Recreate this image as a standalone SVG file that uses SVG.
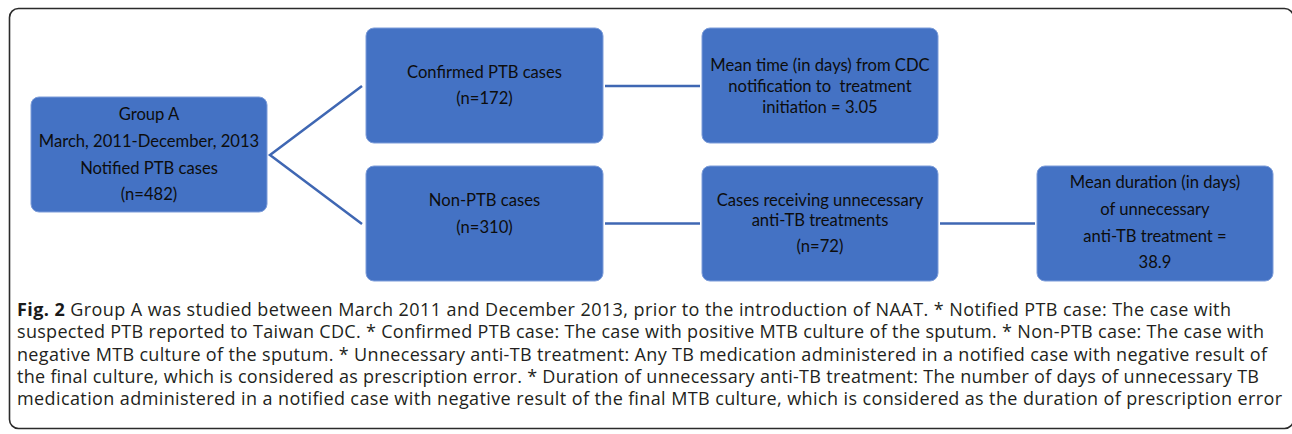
<svg xmlns="http://www.w3.org/2000/svg" width="1292" height="434" viewBox="0 0 1292 434">
<style>
.box{fill:#4472C4;stroke:#7C9CD9;stroke-width:1}
.lbl{font-family:Lato,"Liberation Sans",sans-serif;font-size:16.6px;fill:#0d0d0d;text-anchor:middle}
.cap{font-family:"Open Sans","Noto Sans",sans-serif;font-size:18px;fill:#231f20}
.conn{stroke:#3F67B3;stroke-width:2.5;fill:none}
</style>
<rect x="9.5" y="8.5" width="1284" height="420" rx="9" fill="#fff" stroke="#2b2b2b" stroke-width="1.6"/>
<g id="connectors">
<polyline class="conn" points="362,86 270,155 362,224"/>
<line class="conn" x1="605" y1="86" x2="700" y2="86"/>
<line class="conn" x1="605" y1="223.5" x2="700" y2="223.5"/>
<line class="conn" x1="940" y1="223.5" x2="1035" y2="223.5"/>
</g>
<g id="groupA">
<rect class="box" x="31" y="97" width="236" height="115" rx="8"/>
<text class="lbl" x="149" y="120">Group A</text>
<text class="lbl" x="149" y="147">March, 2011-December, 2013</text>
<text class="lbl" x="149" y="174">Notified PTB cases</text>
<text class="lbl" x="149" y="200">(n=482)</text>
</g>
<g id="confirmed">
<rect class="box" x="366" y="28" width="237" height="115" rx="8"/>
<text class="lbl" x="484.5" y="78">Confirmed PTB cases</text>
<text class="lbl" x="484.5" y="104">(n=172)</text>
</g>
<g id="meantime">
<rect class="box" x="702" y="28" width="236" height="115" rx="8"/>
<text class="lbl" x="820" y="71">Mean time (in days) from CDC</text>
<text class="lbl" x="820" y="92" xml:space="preserve">notification to  treatment</text>
<text class="lbl" x="820" y="113">initiation = 3.05</text>
</g>
<g id="nonptb">
<rect class="box" x="366" y="166" width="237" height="115" rx="8"/>
<text class="lbl" x="484.5" y="206">Non-PTB cases</text>
<text class="lbl" x="484.5" y="233">(n=310)</text>
</g>
<g id="unnecessary">
<rect class="box" x="702" y="166" width="236" height="115" rx="8"/>
<text class="lbl" x="820" y="206">Cases receiving unnecessary</text>
<text class="lbl" x="820" y="226">anti-TB treatments</text>
<text class="lbl" x="820" y="252">(n=72)</text>
</g>
<g id="meanduration">
<rect class="box" x="1037" y="166" width="236" height="115" rx="8"/>
<text class="lbl" x="1155" y="188">Mean duration (in days)</text>
<text class="lbl" x="1155" y="215">of unnecessary</text>
<text class="lbl" x="1155" y="242">anti-TB treatment =</text>
<text class="lbl" x="1155" y="268">38.9</text>
</g>
<g id="caption">
<text class="cap" x="17" y="316" textLength="1214" lengthAdjust="spacing"><tspan font-weight="bold" fill="#1a1a1a">Fig. 2</tspan> Group A was studied between March 2011 and December 2013, prior to the introduction of NAAT. * Notified PTB case: The case with</text>
<text class="cap" x="17" y="338" textLength="1247" lengthAdjust="spacing">suspected PTB reported to Taiwan CDC. * Confirmed PTB case: The case with positive MTB culture of the sputum. * Non-PTB case: The case with</text>
<text class="cap" x="17" y="360.5" textLength="1250" lengthAdjust="spacing">negative MTB culture of the sputum. * Unnecessary anti-TB treatment: Any TB medication administered in a notified case with negative result of</text>
<text class="cap" x="17" y="383" textLength="1242" lengthAdjust="spacing">the final culture, which is considered as prescription error. * Duration of unnecessary anti-TB treatment: The number of days of unnecessary TB</text>
<text class="cap" x="17" y="405" textLength="1265" lengthAdjust="spacing">medication administered in a notified case with negative result of the final MTB culture, which is considered as the duration of prescription error</text>
</g>
</svg>
